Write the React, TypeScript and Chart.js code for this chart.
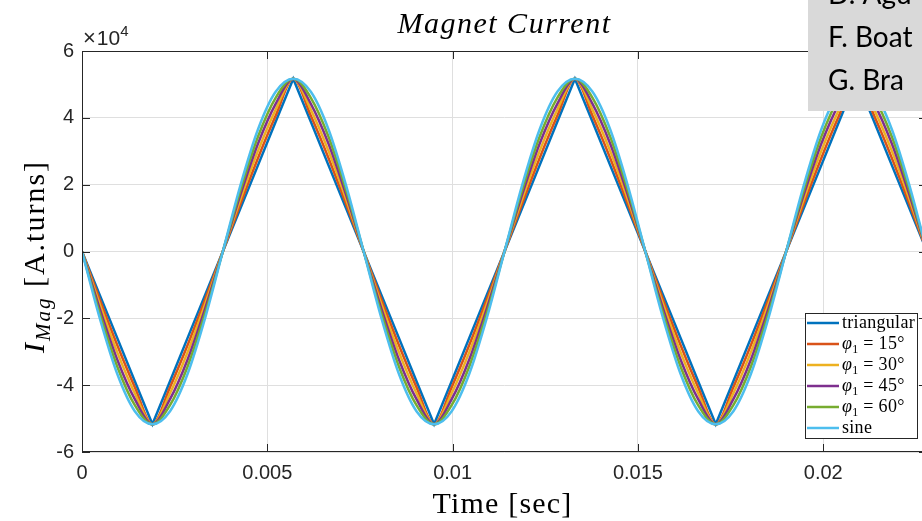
import { useEffect, useRef } from "react";
import { Chart, registerables } from "chart.js";

Chart.register(...registerables);

// time samples [sec]
const times = [
  0, 0.000475, 0.00095, 0.001425, 0.0019, 0.002375, 0.00285, 0.003325,
  0.0038, 0.004275, 0.00475, 0.005225, 0.0057, 0.006175, 0.00665, 0.007125,
  0.0076, 0.008075, 0.00855, 0.009025, 0.0095, 0.009975, 0.01045, 0.010925,
  0.0114, 0.011875, 0.01235, 0.012825, 0.0133, 0.013775, 0.01425, 0.014725,
  0.0152, 0.015675, 0.01615, 0.016625, 0.0171, 0.017575, 0.01805, 0.018525,
  0.019, 0.019475, 0.01995, 0.020425, 0.0209, 0.021375, 0.02185, 0.022325,
  0.0228, 0.023275,
];

const triangular = [
  0, -12900, -25850, -38800, -51700, -38800, -25850, -12900,
  0, 12900, 25850, 38800, 51700, 38800, 25850, 12900,
  0, -12900, -25850, -38800, -51700, -38800, -25850, -12900,
  0, 12900, 25850, 38800, 51700, 38800, 25850, 12900,
  0, -12900, -25850, -38800, -51700, -38800, -25850, -12900,
  0, 12900, 25850, 38800, 51700, 38800, 25850, 12900,
  0, -12900,
];

const phi15 = [
  0, -14300, -28000, -40600, -51700, -40600, -28000, -14300,
  0, 14300, 28000, 40600, 51700, 40600, 28000, 14300,
  0, -14300, -28000, -40600, -51700, -40600, -28000, -14300,
  0, 14300, 28000, 40600, 51700, 40600, 28000, 14300,
  0, -14300, -28000, -40600, -51700, -40600, -28000, -14300,
  0, 14300, 28000, 40600, 51700, 40600, 28000, 14300,
  0, -14300,
];

const phi30 = [
  0, -15700, -30100, -42400, -51700, -42400, -30100, -15700,
  0, 15700, 30100, 42400, 51700, 42400, 30100, 15700,
  0, -15700, -30100, -42400, -51700, -42400, -30100, -15700,
  0, 15700, 30100, 42400, 51700, 42400, 30100, 15700,
  0, -15700, -30100, -42400, -51700, -42400, -30100, -15700,
  0, 15700, 30100, 42400, 51700, 42400, 30100, 15700,
  0, -15700,
];

const phi45 = [
  0, -17000, -32300, -44200, -51700, -44200, -32300, -17000,
  0, 17000, 32300, 44200, 51700, 44200, 32300, 17000,
  0, -17000, -32300, -44200, -51700, -44200, -32300, -17000,
  0, 17000, 32300, 44200, 51700, 44200, 32300, 17000,
  0, -17000, -32300, -44200, -51700, -44200, -32300, -17000,
  0, 17000, 32300, 44200, 51700, 44200, 32300, 17000,
  0, -17000,
];

const phi60 = [
  0, -18400, -34400, -46000, -51700, -46000, -34400, -18400,
  0, 18400, 34400, 46000, 51700, 46000, 34400, 18400,
  0, -18400, -34400, -46000, -51700, -46000, -34400, -18400,
  0, 18400, 34400, 46000, 51700, 46000, 34400, 18400,
  0, -18400, -34400, -46000, -51700, -46000, -34400, -18400,
  0, 18400, 34400, 46000, 51700, 46000, 34400, 18400,
  0, -18400,
];

const sine = [
  0, -19800, -36600, -47800, -51700, -47800, -36600, -19800,
  0, 19800, 36600, 47800, 51700, 47800, 36600, 19800,
  0, -19800, -36600, -47800, -51700, -47800, -36600, -19800,
  0, 19800, 36600, 47800, 51700, 47800, 36600, 19800,
  0, -19800, -36600, -47800, -51700, -47800, -36600, -19800,
  0, 19800, 36600, 47800, 51700, 47800, 36600, 19800,
  0, -19800,
];

const seriesLabels = ["triangular", "φ₁ = 15°", "φ₁ = 30°", "φ₁ = 45°", "φ₁ = 60°", "sine"];
const seriesColors = ["#0072BD", "#D95319", "#EDB120", "#7E2F8E", "#77AC30", "#4DBEEE"];
const seriesValues = [triangular, phi15, phi30, phi45, phi60, sine];

const noteLines = ["D. Agu", "F. Boat", "G. Bra"];

const AXIS = "#262626";
const SERIF = "'Liberation Serif', 'Times New Roman', serif";
const SANS = "'Liberation Sans', Arial, sans-serif";

function drawLegendLabel(ctx: CanvasRenderingContext2D, label: string, x: number, y: number) {
  ctx.fillStyle = "#000";
  ctx.textAlign = "left";
  ctx.textBaseline = "alphabetic";
  (ctx as any).letterSpacing = "0.3px";
  if (label.startsWith("φ₁")) {
    ctx.font = `italic 18px ${SERIF}`;
    ctx.fillText("φ", x, y);
    let cx = x + ctx.measureText("φ").width;
    ctx.font = `12px ${SERIF}`;
    ctx.fillText("1", cx, y + 4);
    cx += ctx.measureText("1").width;
    ctx.font = `18px ${SERIF}`;
    ctx.fillText(label.slice(2), cx, y);
  } else {
    ctx.font = `18px ${SERIF}`;
    ctx.fillText(label, x, y);
  }
  (ctx as any).letterSpacing = "0px";
}

const decorPlugin = {
  id: "decor",
  afterDatasetsDraw(chart: any) {
    const { ctx, chartArea: ca, scales } = chart;
    const xs = scales.x;
    const ys = scales.y;
    ctx.save();
    ctx.strokeStyle = AXIS;
    ctx.lineWidth = 1;
    ctx.strokeRect(ca.left + 0.5, ca.top + 0.5, ca.right - ca.left - 1, ca.bottom - ca.top - 1);
    const tl = 8;
    ctx.beginPath();
    xs.ticks.forEach((t: any) => {
      const px = Math.round(xs.getPixelForValue(t.value)) + 0.5;
      ctx.moveTo(px, ca.bottom);
      ctx.lineTo(px, ca.bottom - tl);
      ctx.moveTo(px, ca.top);
      ctx.lineTo(px, ca.top + tl);
    });
    ys.ticks.forEach((t: any) => {
      const py = Math.round(ys.getPixelForValue(t.value)) + 0.5;
      ctx.moveTo(ca.left, py);
      ctx.lineTo(ca.left + tl, py);
      ctx.moveTo(ca.right, py);
      ctx.lineTo(ca.right - tl, py);
    });
    ctx.stroke();
    ctx.restore();
  },
  afterDraw(chart: any) {
    const { ctx, chartArea: ca } = chart;
    ctx.save();
    // title
    ctx.fillStyle = "#000";
    ctx.textAlign = "center";
    ctx.textBaseline = "alphabetic";
    ctx.font = `italic 30px ${SERIF}`;
    (ctx as any).letterSpacing = "1.5px";
    ctx.fillText("Magnet Current", (ca.left + ca.right) / 2, 33);
    // x label
    ctx.font = `30px ${SERIF}`;
    (ctx as any).letterSpacing = "1.2px";
    ctx.fillText("Time [sec]", (ca.left + ca.right) / 2 - 2, 513);
    (ctx as any).letterSpacing = "0px";

    // exponent
    ctx.textAlign = "left";
    ctx.fillStyle = AXIS;
    ctx.font = `22px ${SANS}`;
    let ex = ca.left + 1;
    ctx.fillText("×", ex, 45);
    ex += ctx.measureText("×").width + 1;
    ctx.font = `21px ${SANS}`;
    ctx.fillText("10", ex, 45);
    ex += ctx.measureText("10").width;
    ctx.font = `15px ${SANS}`;
    ctx.fillText("4", ex, 36);

    // y label
    ctx.save();
    ctx.translate(44, (ca.top + ca.bottom) / 2 + 5);
    ctx.rotate(-Math.PI / 2);
    ctx.fillStyle = "#000";
    (ctx as any).letterSpacing = "2px";
    ctx.font = `italic 30px ${SERIF}`;
    const w1 = ctx.measureText("I").width;
    ctx.font = `italic 21px ${SERIF}`;
    const w2 = ctx.measureText("Mag").width;
    ctx.font = `30px ${SERIF}`;
    const w3 = ctx.measureText(" [A.turns]").width;
    let lx = -(w1 + w2 + w3) / 2;
    ctx.font = `italic 30px ${SERIF}`;
    ctx.fillText("I", lx, 0);
    lx += w1;
    ctx.font = `italic 21px ${SERIF}`;
    ctx.fillText("Mag", lx, 6);
    lx += w2;
    ctx.font = `30px ${SERIF}`;
    ctx.fillText(" [A.turns]", lx, 0);
    ctx.restore();

    // legend
    const lw = 113;
    const lh = 126;
    const lr = ca.right - 9;
    const lb = ca.bottom - 13;
    const lxL = lr - lw;
    const lyT = lb - lh;
    ctx.fillStyle = "#fff";
    ctx.fillRect(lxL, lyT, lw, lh);
    ctx.strokeStyle = AXIS;
    ctx.lineWidth = 1;
    ctx.strokeRect(lxL + 0.5, lyT + 0.5, lw - 1, lh - 1);
    chart.data.datasets.forEach((ds: any, i: number) => {
      const cy = lyT + 10 + i * 21;
      ctx.strokeStyle = ds.borderColor;
      ctx.lineWidth = 2.5;
      ctx.beginPath();
      ctx.moveTo(lxL + 2, cy);
      ctx.lineTo(lxL + 34, cy);
      ctx.stroke();
      drawLegendLabel(ctx, ds.label, lxL + 37, cy + 5);
    });

    // grey note box
    ctx.fillStyle = "#d9d9d9";
    ctx.fillRect(808, 0, 200, 111);
    ctx.fillStyle = "#000";
    ctx.font = `28px Lato, 'Open Sans', sans-serif`;
    ctx.textAlign = "left";
    noteLines.forEach((t, i) => {
      ctx.fillText(t, 828, 4 + i * 43);
    });
    ctx.restore();
  },
};

export default function App() {
  const ref = useRef<HTMLCanvasElement | null>(null);

  useEffect(() => {
    if (!ref.current) return;
    const datasets = seriesValues.map((vals, i) => ({
      label: seriesLabels[i],
      data: vals,
      borderColor: seriesColors[i],
      backgroundColor: seriesColors[i],
      borderWidth: 2.5,
      pointRadius: 0,
      fill: false,
      tension: 0,
      cubicInterpolationMode: i === 0 ? "default" : "monotone",
      order: seriesValues.length - 1 - i,
    }));
    const chart = new Chart(ref.current, {
      type: "line",
      data: { labels: times, datasets: datasets as any },
      plugins: [decorPlugin],
      options: {
        animation: false,
        responsive: false,
        maintainAspectRatio: false,
        devicePixelRatio: 1,
        layout: { padding: { top: 51, right: 13, left: 0, bottom: 0 } },
        plugins: {
          legend: { display: false },
          title: { display: false },
          tooltip: { enabled: false },
        },
        events: [],
        scales: {
          x: {
            type: "linear",
            min: 0,
            max: 0.0228,
            afterFit: (s: any) => {
              s.height = 69;
            },
            grid: { color: "#dfdfdf", drawTicks: false, lineWidth: 1 },
            border: { display: false },
            ticks: {
              stepSize: 0.005,
              includeBounds: false,
              padding: 9,
              maxRotation: 0,
              autoSkip: false,
              color: AXIS,
              font: { family: SANS, size: 20 },
              callback: (v: any) => String(Math.round(Number(v) * 1000) / 1000),
            },
          },
          y: {
            type: "linear",
            min: -60000,
            max: 60000,
            afterFit: (s: any) => {
              s.width = 82;
            },
            grid: { color: "#dfdfdf", drawTicks: false, lineWidth: 1 },
            border: { display: false },
            ticks: {
              stepSize: 20000,
              padding: 8,
              color: AXIS,
              font: { family: SANS, size: 20 },
              callback: (v: any) => String(Number(v) / 10000),
            },
          },
        },
      } as any,
    });
    return () => chart.destroy();
  }, []);

  return (
    <div
      style={{
        position: "fixed",
        left: 0,
        top: 0,
        width: 922,
        height: 521,
        overflow: "hidden",
        background: "#fff",
      }}
    >
      <canvas ref={ref} width={940} height={521} style={{ display: "block", width: 940, height: 521 }} />
    </div>
  );
}
